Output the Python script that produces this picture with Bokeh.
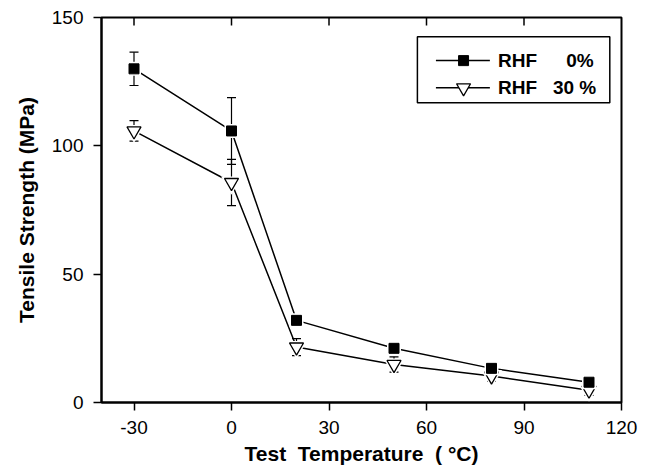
from bokeh.plotting import figure
from bokeh.models import (ColumnDataSource, Whisker, TeeHead, FixedTicker,
                          BoxAnnotation, Range1d)
from bokeh.core.properties import value
from bokeh.embed import file_html
from bokeh.resources import INLINE

# ---- data ----
temp = [-30, 0, 20, 50, 80, 110]
rhf0 = [130.0, 105.8, 32.0, 21.1, 13.3, 7.9]
rhf0_err = [6.5, 13.0, 1.0, 1.0, 1.0, 1.0]
rhf30 = [105.8, 85.7, 21.6, 14.8, 10.3, 4.8]
rhf30_err = [4.0, 9.0, 3.3, 3.0, 2.0, 2.0]

x_ticks = [-30, 0, 30, 60, 90, 120]
x_tick_labels = ["-30", "0", "30", "60", "90", "120"]
y_ticks = [0, 50, 100, 150]
series_labels = ["RHF", "RHF"]
series_pct = ["0%", "30 %"]

# ---- legend layout (data coordinates) ----
leg_box = dict(left=57.2, right=116.4, bottom=116.8, top=142.5)
leg_rows_y = [133.2, 122.6]
leg_line_x = [62.9, 79.5]
leg_marker_x = 71.4
leg_name_x = 82.0
leg_pct_x = [103.0, 98.9]

FONT = "Liberation Sans"
X0, X1, Y0, Y1 = -40, 120, 0, 150
NB = "\u00a0"

p = figure(width=649, height=469, output_backend="svg", toolbar_location=None,
           x_range=Range1d(X0, X1), y_range=Range1d(Y0, Y1),
           min_border_left=101, min_border_right=28, min_border_top=17, min_border_bottom=67)
p.xgrid.visible = False
p.ygrid.visible = False
p.outline_line_color = "black"
p.outline_line_width = 2
p.background_fill_color = "white"
p.border_fill_color = "white"

for ax in (p.xaxis[0], p.yaxis[0]):
    ax.axis_line_width = 2
    ax.major_tick_line_width = 1.5
    ax.major_tick_in = 0
    ax.major_tick_out = 8
    ax.minor_tick_line_color = None
    ax.major_label_text_font = FONT
    ax.major_label_text_font_size = "19px"
    ax.major_label_text_color = "black"
    ax.major_label_standoff = 10
    ax.axis_label_text_font = FONT
    ax.axis_label_text_font_style = "bold"
    ax.axis_label_text_font_size = "21px"
    ax.axis_label_text_color = "black"

p.xaxis[0].ticker = FixedTicker(ticks=x_ticks)
p.xaxis[0].major_label_overrides = {t: s for t, s in zip(x_ticks, x_tick_labels)}
p.yaxis[0].ticker = FixedTicker(ticks=y_ticks)
p.xaxis[0].axis_label = f"Test{NB}{NB}Temperature{NB}{NB}({NB}°C)"
p.xaxis[0].axis_label_standoff = 5
p.yaxis[0].axis_label = "Tensile Strength (MPa)"
p.yaxis[0].axis_label_standoff = 11

# inward ticks on the top edge of the frame (8 px long)
tick_len = 8 * (Y1 - Y0) / (469 - 17 - 67)
p.segment(x0=x_ticks[:-1], x1=x_ticks[:-1], y0=[Y1] * 5, y1=[Y1 - tick_len] * 5,
          line_color="black", line_width=1.5)

src0 = ColumnDataSource(dict(x=temp, y=rhf0,
                             lo=[v - e for v, e in zip(rhf0, rhf0_err)],
                             hi=[v + e for v, e in zip(rhf0, rhf0_err)]))
src30 = ColumnDataSource(dict(x=temp, y=rhf30,
                              lo=[v - e for v, e in zip(rhf30, rhf30_err)],
                              hi=[v + e for v, e in zip(rhf30, rhf30_err)]))

# lines
p.line("x", "y", source=src0, line_color="black", line_width=1.5)
p.line("x", "y", source=src30, line_color="black", line_width=1.5)

# white halos to leave small gaps at markers
p.scatter("x", "y", source=src30, marker="inverted_triangle", size=21,
          fill_color="white", line_color=None)
p.scatter("x", "y", source=src30, marker="inverted_triangle", size=14,
          fill_color="white", line_color="black", line_width=1.3)
p.scatter("x", "y", source=src0, marker="square", size=14,
          fill_color="white", line_color=None)
p.scatter("x", "y", source=src0, marker="square", size=10,
          fill_color="black", line_color="black", line_width=1)

for s in (src0, src30):
    w = Whisker(base="x", upper="hi", lower="lo", source=s, line_width=1.2, line_color="black",
                upper_head=TeeHead(size=9, line_width=1.2, line_color="black"),
                lower_head=TeeHead(size=9, line_width=1.2, line_color="black"))
    p.add_layout(w)

# ---- legend ----
p.add_layout(BoxAnnotation(fill_color=None, line_color="black", line_width=1.5,
                           line_alpha=1, **leg_box))
for i, yy in enumerate(leg_rows_y):
    p.line(leg_line_x, [yy, yy], line_color="black", line_width=1.5)
p.scatter([leg_marker_x], [leg_rows_y[0]], marker="square", size=10,
          fill_color="black", line_color="black")
p.scatter([leg_marker_x], [leg_rows_y[1]], marker="inverted_triangle", size=14,
          fill_color="white", line_color="black", line_width=1.3)
p.text([leg_name_x] * 2, leg_rows_y, text=series_labels, text_font=value(FONT),
       text_font_style="bold", text_font_size="19px", text_baseline="middle",
       text_align="left", text_color="black")
p.text(leg_pct_x, leg_rows_y, text=series_pct, text_font=value(FONT),
       text_font_style="bold", text_font_size="19px", text_baseline="middle",
       text_align="left", text_color="black")

open("out.html", "w").write(file_html(p, INLINE))
